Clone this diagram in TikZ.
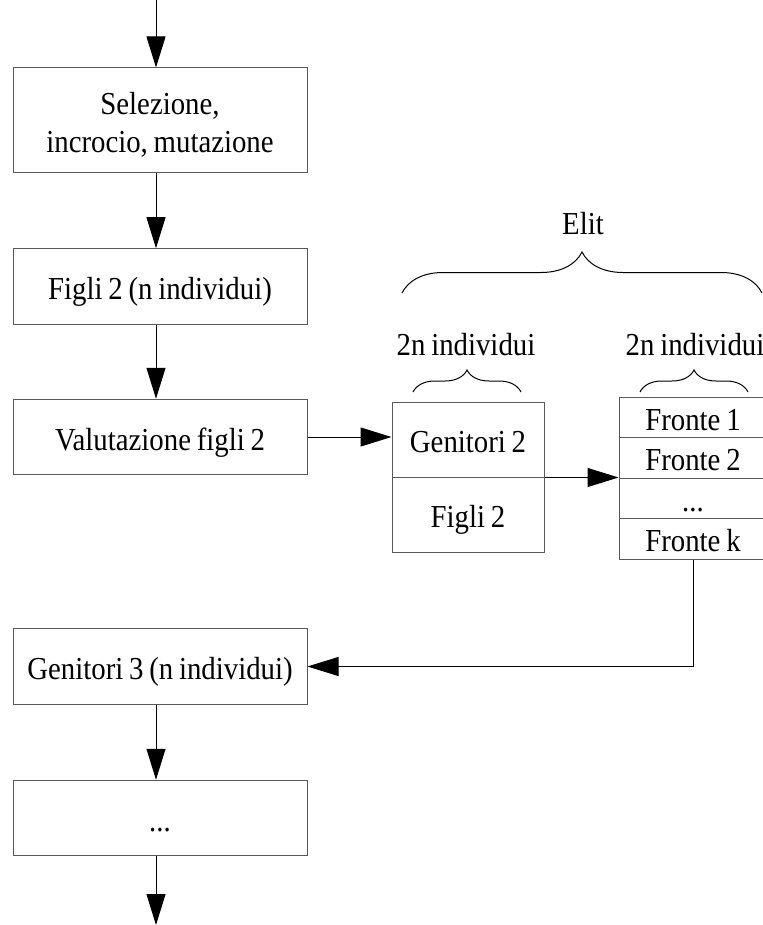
\documentclass[tikz,border=0pt]{standalone}
\usepackage{fontspec}
\setmainfont{Liberation Serif}[FakeStretch=0.9, WordSpace=0.8]
\usetikzlibrary{arrows.meta,decorations.pathreplacing}
\begin{document}
\begin{tikzpicture}[x=1pt,y=1pt,
  font=\fontsize{32}{38}\selectfont,
  boxbase/.style={draw=black!65, line width=1pt, inner sep=2pt, text height=26pt, text depth=0pt},
  leftbox/.style={boxbase, minimum width=294pt, minimum height=75.5pt},
  midbox/.style={boxbase, minimum width=152pt, minimum height=75pt},
  rowbox/.style={boxbase, minimum width=148pt, minimum height=40.5pt},
  arr/.style={draw=black, line width=1pt, -{Triangle[length=31pt,width=19pt]}},
  conn/.style={draw=black, line width=1pt},
  bracedraw/.style={draw=black, line width=1pt, decorate}
]
\useasboundingbox (0,0) rectangle (762,-925);

% column reference for vertical arrows
\coordinate (colx) at (156,0);
\coordinate (topin) at (156,0);
\coordinate (botout) at (156,-925);

% left column
\node[leftbox, minimum height=105pt, text height=0pt, text depth=11pt] (b1) at (160,-120.5)
  {\setlength{\tabcolsep}{0pt}\begin{tabular}[t]{c}Selezione,\\incrocio, mutazione\end{tabular}};
\node[leftbox] (b2) at (160,-286.5) {Figli 2 (n individui)};
\node[leftbox] (b3) at (160,-437) {Valutazione figli 2};
\node[leftbox] (b4) at (160,-666.5) {Genitori 3 (n individui)};
\node[leftbox] (b5) at (160,-818) {...};

% middle block
\node[midbox] (g2) at (468,-439.5) {Genitori 2};
\node[midbox] (fg2) at (468,-514.5) {Figli 2};

% right block (fronts)
\node[rowbox] (f1) at (693,-417.25) {Fronte 1};
\node[rowbox] (f2) at (693,-457.75) {Fronte 2};
\node[rowbox] (fd) at (693,-498.25) {...};
\node[rowbox] (fk) at (693,-538.75) {Fronte k};

% labels
\node[anchor=base, inner sep=0pt] (elit) at (583,-234) {Elit};
\node[anchor=base, inner sep=0pt] (lab1) at (466,-355) {2n individui};
\node[anchor=base, inner sep=0pt] (lab2) at (695,-355) {2n individui};

% braces
\draw[bracedraw, decoration={brace, amplitude=41pt}] (402,-293) -- (762,-293);
\draw[bracedraw, decoration={brace, amplitude=22pt}] (413,-392) -- (521,-392);
\draw[bracedraw, decoration={brace, amplitude=22pt}] (640,-392) -- (748,-392);

% vertical flow arrows
\draw[arr] (topin) -- (b1.north -| colx);
\draw[arr] (b1.south -| colx) -- (b2.north -| colx);
\draw[arr] (b2.south -| colx) -- (b3.north -| colx);
\draw[arr] (b4.south -| colx) -- (b5.north -| colx);
\draw[arr] (b5.south -| colx) -- (botout);

% horizontal arrows
\draw[arr] (b3.east) -- (b3.east -| g2.west);
\draw[arr] (g2.south east) -- (g2.south east -| fd.west);
\draw[arr] (fk.south) -- (fk.south |- b4.east) -- (b4.east);
\end{tikzpicture}
\end{document}
